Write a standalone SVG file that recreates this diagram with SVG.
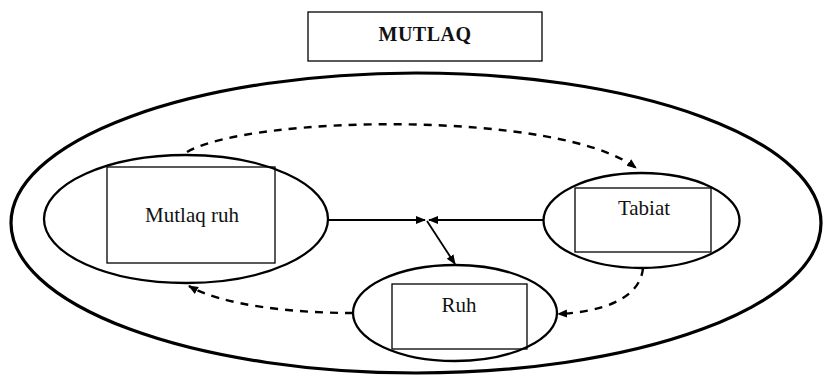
<svg xmlns="http://www.w3.org/2000/svg" width="824" height="379" viewBox="0 0 824 379">
<style>
.ell{fill:none;stroke:#000;stroke-width:2.3}
.box{fill:none;stroke:#000;stroke-width:1.3}
.lbl{font-family:"Liberation Serif","DejaVu Serif",serif;font-size:21px;fill:#111;text-anchor:middle}
.title{font-family:"Liberation Serif","DejaVu Serif",serif;font-size:20px;font-weight:bold;fill:#111;text-anchor:middle;letter-spacing:0.5px}
.solid{fill:none;stroke:#000;stroke-width:1.8}
.dash{fill:none;stroke:#000;stroke-width:2.4;stroke-dasharray:8 7}
</style>
<defs>
<marker id="ah" viewBox="0 0 10 10" refX="9" refY="5" markerWidth="10" markerHeight="10" markerUnits="userSpaceOnUse" orient="auto">
<path d="M0,1 L10,5 L0,9 Z" fill="#000"/>
</marker>
</defs>
<rect width="824" height="379" fill="#fff"/>
<g id="title">
<rect class="box" x="308" y="12" width="234" height="49"/>
<text class="title" x="425" y="41" font-family="Liberation Serif, serif">MUTLAQ</text>
</g>
<g id="outer">
<ellipse cx="416" cy="223" rx="405" ry="150" fill="none" stroke="#000" stroke-width="3.2"/>
</g>
<g id="mutlaq-ruh">
<ellipse class="ell" cx="186" cy="219" rx="142" ry="64"/>
<rect class="box" x="107" y="167" width="168" height="96"/>
<text class="lbl" x="192" y="222" font-family="Liberation Serif, serif">Mutlaq ruh</text>
</g>
<g id="tabiat">
<ellipse class="ell" cx="641.5" cy="220.5" rx="98" ry="47.5"/>
<rect class="box" x="575" y="188" width="136" height="64"/>
<text class="lbl" x="644" y="215" font-family="Liberation Serif, serif">Tabiat</text>
</g>
<g id="ruh">
<ellipse class="ell" cx="455" cy="313" rx="102" ry="48"/>
<rect class="box" x="392" y="284" width="135" height="65"/>
<text class="lbl" x="459" y="312" font-family="Liberation Serif, serif">Ruh</text>
</g>
<g id="connectors">
<path class="solid" d="M328,220 L425,220" marker-end="url(#ah)"/>
<path class="solid" d="M543,220 L429,220" marker-end="url(#ah)"/>
<path class="solid" d="M427,221 L455,264" marker-end="url(#ah)"/>
<path class="dash" d="M187,152 C250,115 560,110 636,168" marker-end="url(#ah)"/>
<path class="dash" d="M643,268 C640,300 600,312 558,314" marker-end="url(#ah)"/>
<path class="dash" d="M353,313 C290,313 222,305 189,286" marker-end="url(#ah)"/>
</g>
</svg>
